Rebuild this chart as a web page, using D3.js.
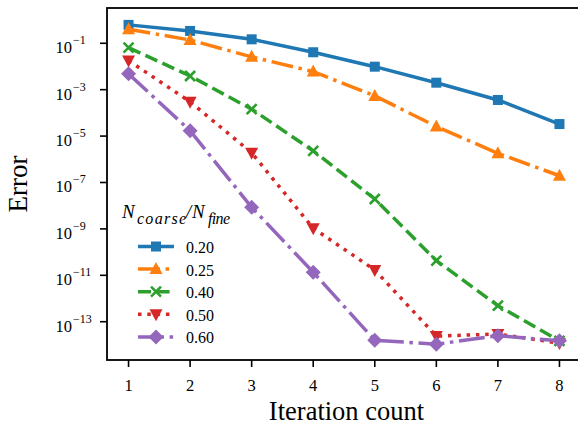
<!DOCTYPE html>
<html>
<head>
<meta charset="utf-8">
<script src="https://cdn.jsdelivr.net/npm/d3@7"></script>
<style>
  body { margin: 0; background: #fff; }
  svg text { font-family: "Liberation Serif", "Times New Roman", Times, serif; }
</style>
</head>
<body>
<script>
const width = 578;
const height = 426;

// data
const iterations = [1, 2, 3, 4, 5, 6, 7, 8];
const ratios = ["0.20", "0.25", "0.40", "0.50", "0.60"];
const err020 = [0.62, 0.34, 0.148, 0.041, 0.0098, 0.0020, 3.6e-4, 3.3e-5];
const err025 = [0.40, 0.138, 0.026, 0.006, 5.4e-4, 2.6e-5, 1.8e-6, 1.95e-7];
const err040 = [0.065, 0.0039, 1.45e-4, 2.3e-6, 1.95e-8, 4.3e-11, 4.9e-13, 1.5e-14];
const err050 = [0.018, 3.0e-4, 1.9e-6, 1.07e-9, 1.7e-11, 2.4e-14, 2.95e-14, 1.2e-14];
const err060 = [0.0048, 1.7e-5, 8.5e-9, 1.35e-11, 1.6e-14, 1.07e-14, 2.5e-14, 1.5e-14];
const yTickExps = [-1, -3, -5, -7, -9, -11, -13];

const series = [
  {name: ratios[0], values: err020, color: "#1f77b4", dash: null, marker: "square"},
  {name: ratios[1], values: err025, color: "#ff7f0e", dash: "22,5.6,3.5,5.6", marker: "triUp"},
  {name: ratios[2], values: err040, color: "#2ca02c", dash: "13,5.6", marker: "x"},
  {name: ratios[3], values: err050, color: "#d62728", dash: "3.5,5.8", marker: "triDown"},
  {name: ratios[4], values: err060, color: "#9467bd", dash: "26,5.6,3.5,5.6", marker: "diamond"}
];

const padding = {left: 107, right: -3, top: 8, bottom: 66};

const svg = d3.select("body")
  .append("svg")
  .attr("width", width)
  .attr("height", height);

const xScale = d3.scaleLinear()
  .domain([0.65, 8.35])
  .range([padding.left, width - padding.right]);

const yScale = d3.scaleLog()
  .domain([Math.pow(10, -14.65), Math.pow(10, 0.52)])
  .range([height - padding.bottom, padding.top]);

const plotBottom = height - padding.bottom;

// clip
svg.append("clipPath").attr("id", "clip")
  .append("rect")
  .attr("x", padding.left).attr("y", padding.top)
  .attr("width", width - padding.left - padding.right)
  .attr("height", plotBottom - padding.top);

function drawMarker(g, type, x, y, color) {
  if (type === "square") {
    g.append("rect").attr("x", x - 5).attr("y", y - 5).attr("width", 10).attr("height", 10)
      .attr("fill", color);
  } else if (type === "triUp") {
    g.append("path").attr("d", `M${x},${y - 7}L${x + 6.5},${y + 5}L${x - 6.5},${y + 5}Z`)
      .attr("fill", color);
  } else if (type === "triDown") {
    g.append("path").attr("d", `M${x},${y + 7}L${x + 6.5},${y - 5}L${x - 6.5},${y - 5}Z`)
      .attr("fill", color);
  } else if (type === "diamond") {
    g.append("path").attr("d", `M${x},${y - 7.5}L${x + 7.5},${y}L${x},${y + 7.5}L${x - 7.5},${y}Z`)
      .attr("fill", color);
  } else if (type === "x") {
    g.append("path").attr("d", `M${x - 5},${y - 5}L${x + 5},${y + 5}M${x - 5},${y + 5}L${x + 5},${y - 5}`)
      .attr("stroke", color).attr("stroke-width", 2.6).attr("fill", "none");
  }
}

const line = d3.line()
  .x((d, i) => xScale(iterations[i]))
  .y((d) => yScale(d));

const plot = svg.append("g").attr("clip-path", "url(#clip)");

series.forEach((s) => {
  plot.append("path")
    .datum(s.values)
    .attr("fill", "none")
    .attr("stroke", s.color)
    .attr("stroke-width", 3.5)
    .attr("stroke-dasharray", s.dash)
    .attr("d", line);
  const mg = plot.append("g");
  s.values.forEach((v, i) => drawMarker(mg, s.marker, xScale(iterations[i]), yScale(v), s.color));
});

// spines
svg.append("rect")
  .attr("x", padding.left).attr("y", padding.top)
  .attr("width", width - padding.left - padding.right)
  .attr("height", plotBottom - padding.top)
  .attr("fill", "none").attr("stroke", "#000").attr("stroke-width", 1.8);

// x axis
const xAxis = svg.append("g");
iterations.forEach((v) => {
  const x = xScale(v);
  xAxis.append("line").attr("x1", x).attr("x2", x).attr("y1", plotBottom).attr("y2", plotBottom + 7)
    .attr("stroke", "#000").attr("stroke-width", 1.6);
  xAxis.append("text").attr("x", x).attr("y", plotBottom + 31)
    .attr("text-anchor", "middle").attr("font-size", 16.5).text(v);
});

svg.append("text")
  .attr("x", (padding.left + width) / 2 + 4)
  .attr("y", height - 6)
  .attr("text-anchor", "middle")
  .attr("font-size", 26.5)
  .text("Iteration count");

// y axis
const yAxis = svg.append("g");
yTickExps.forEach((e) => {
  const y = yScale(Math.pow(10, e));
  yAxis.append("line").attr("x1", padding.left - 7).attr("x2", padding.left).attr("y1", y).attr("y2", y)
    .attr("stroke", "#000").attr("stroke-width", 1.6);
  yAxis.append("text").attr("x", padding.left - 35).attr("y", y + 10)
    .attr("text-anchor", "end").attr("font-size", 16.5).text("10");
  yAxis.append("text").attr("x", padding.left - 34).attr("y", y + 1)
    .attr("font-size", 12).text("\u2212" + Math.abs(e));
});

svg.append("text")
  .attr("transform", "translate(27," + 184 + ") rotate(-90)")
  .attr("text-anchor", "middle")
  .attr("font-size", 27)
  .text("Error");

// legend
const legend = svg.append("g").attr("transform", "translate(121,222)");
const title = legend.append("text").attr("font-style", "italic").attr("font-size", 19);
title.append("tspan").attr("x", 1).attr("y", -4).text("N");
title.append("tspan").attr("x", 16).attr("y", 2).attr("font-size", 16)
  .attr("textLength", 49).attr("lengthAdjust", "spacing").text("coarse");
title.append("tspan").attr("x", 65).attr("y", -4).text("/");
title.append("tspan").attr("x", 71).attr("y", -4).text("N");
title.append("tspan").attr("x", 87).attr("y", 2).attr("font-size", 16)
  .attr("textLength", 22).attr("lengthAdjust", "spacing").text("fine");

series.forEach((s, i) => {
  const y = 24.5 + i * 22.6;
  legend.append("line")
    .attr("x1", 17).attr("x2", 53).attr("y1", y).attr("y2", y)
    .attr("stroke", s.color).attr("stroke-width", 3.5)
    .attr("stroke-dasharray", s.dash);
  drawMarker(legend, s.marker, 35, y, s.color);
  legend.append("text").attr("x", 65).attr("y", y + 6.5).attr("font-size", 16).text(s.name);
});
</script>
</body>
</html>
